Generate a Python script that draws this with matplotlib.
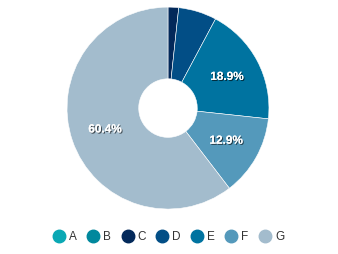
import matplotlib.pyplot as plt
import matplotlib.patheffects as pe
from matplotlib.lines import Line2D

plt.rcParams['font.family'] = ['Liberation Sans', 'DejaVu Sans']

# slice data, clockwise from 12 o'clock
labels = ['A', 'B', 'C', 'D', 'E', 'F', 'G']
shares = [0.0, 0.0, 1.7, 6.1, 18.9, 12.9, 60.4]
colors = ['#0aa8b4', '#00889d', '#03295a', '#024e86', '#0073a0', '#5499bb', '#a3bccd']

fig = plt.figure(figsize=(3.38, 2.54), dpi=100)
ax = fig.add_axes([0.198, 0.177, 0.598, 0.795])


def fmt(p):
    # only the big slices get a label
    return f"{p:.1f}%" if p >= 10 else ""


wedges, texts, autotexts = ax.pie(
    shares, colors=colors, startangle=90, counterclock=False,
    autopct=fmt, pctdistance=0.66, radius=1.0,
    wedgeprops=dict(width=0.71, edgecolor='white', linewidth=0.4),
    textprops=dict(color='white', fontsize=8.5, fontweight='bold'))

for t in autotexts:
    t.set_path_effects([pe.withSimplePatchShadow(offset=(0.8, -0.8),
                                                 shadow_rgbFace='black', alpha=0.6),
                        pe.Normal()])

ax.set_xlim(-1.0, 1.0)
ax.set_ylim(-1.0, 1.0)
ax.set_aspect('equal')

handles = [Line2D([0], [0], marker='o', linestyle='', markersize=9,
                  markerfacecolor=c, markeredgecolor=c) for c in colors]
fig.legend(handles, labels, loc='center', bbox_to_anchor=(0.5, 0.068), ncol=7,
           frameon=False, fontsize=8.5, handlelength=0.9, handletextpad=0.4,
           columnspacing=0.93, labelcolor='#333333')

fig.savefig('out.png', dpi=100)
